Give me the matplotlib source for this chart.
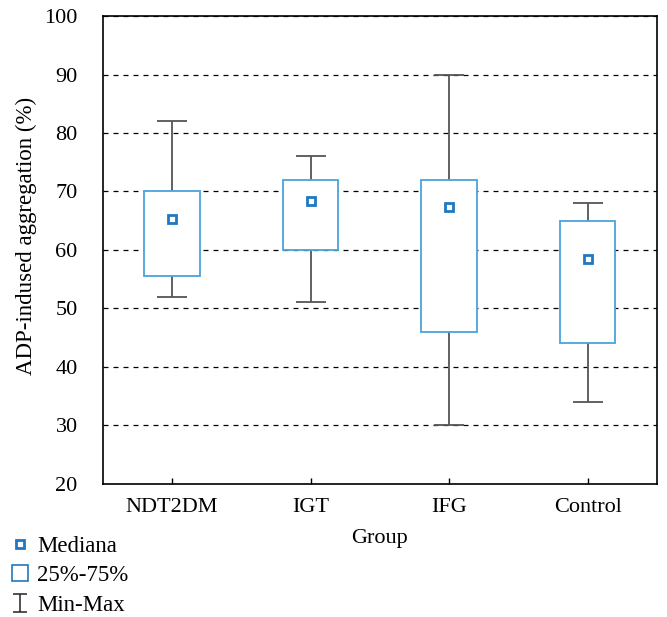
import numpy as np
import matplotlib.pyplot as plt
from matplotlib.ticker import MultipleLocator
from matplotlib.lines import Line2D
from matplotlib.path import Path

groups = ["NDT2DM", "IGT", "IFG", "Control"]
minimum = [52, 51, 30, 34]
q1 = [55.5, 60, 46, 44]
median = [65.3, 68.3, 67.3, 58.4]
q3 = [70, 72, 72, 65]
maximum = [82, 76, 90, 68]

plt.rcParams['font.family'] = ['Liberation Serif', 'DejaVu Serif']

box_edge = '#4aa3dc'
med_col = '#1f78c1'
whisk_col = '#555555'

fig = plt.figure(figsize=(6.67, 6.17), dpi=100)
ax = fig.add_axes([0.154, 0.216, 0.831, 0.758])

x = np.arange(len(groups))
lo = np.array(minimum)
hi = np.array(maximum)
mid = (lo + hi) / 2

ax.errorbar(x, mid, yerr=[mid - lo, hi - mid], fmt='none', ecolor=whisk_col,
            elinewidth=1.3, capsize=10.5, capthick=1.3, zorder=2)
ax.bar(x, np.array(q3) - np.array(q1), bottom=q1, width=0.4, facecolor='white',
       edgecolor=box_edge, linewidth=1.3, zorder=3)
ax.plot(x, median, linestyle='none', marker='s', markersize=6, markerfacecolor='white',
        markeredgecolor=med_col, markeredgewidth=2, zorder=4)

ax.set_xlim(-0.5, 3.5)
ax.set_ylim(20, 100)
ax.set_xticks(x)
ax.set_xticklabels(groups)
ax.yaxis.set_major_locator(MultipleLocator(10))
ax.tick_params(axis='y', length=0, labelsize=16, pad=18)
ax.tick_params(axis='x', direction='in', length=4, width=1, labelsize=16, pad=10)
ax.grid(axis='y', linestyle=(0, (4, 4)), color='black', linewidth=0.9, zorder=1)
ax.set_axisbelow(True)
for s in ax.spines.values():
    s.set_linewidth(1.2)

ax.set_xlabel('Group', fontsize=16, labelpad=9)
ax.set_ylabel('ADP-indused aggregation (%)', fontsize=16.5)
ax.yaxis.set_label_coords(-0.118, 0.53)

# legend proxies
ibeam = Path([(-0.75, -1), (0.75, -1), (0, -1), (0, 1), (-0.75, 1), (0.75, 1)],
             [Path.MOVETO, Path.LINETO, Path.MOVETO, Path.LINETO, Path.MOVETO, Path.LINETO])
h_med = Line2D([], [], linestyle='none', marker='s', markersize=6, markerfacecolor='white',
               markeredgecolor=med_col, markeredgewidth=2)
h_box = Line2D([], [], linestyle='none', marker='s', markersize=11, markerfacecolor='white',
               markeredgecolor=med_col, markeredgewidth=1.2)
h_rng = Line2D([], [], linestyle='none', marker=ibeam, markersize=13, markerfacecolor='none',
               markeredgecolor='#333333', markeredgewidth=1.2)
fig.legend([h_med, h_box, h_rng], ['Mediana', '25%-75%', 'Min-Max'],
           loc='lower left', bbox_to_anchor=(0.015, 0.002), frameon=False,
           fontsize=16.5, handlelength=0.87, handletextpad=0.3, labelspacing=0.36,
           borderpad=0, borderaxespad=0)

fig.savefig('out.png', dpi=100)
